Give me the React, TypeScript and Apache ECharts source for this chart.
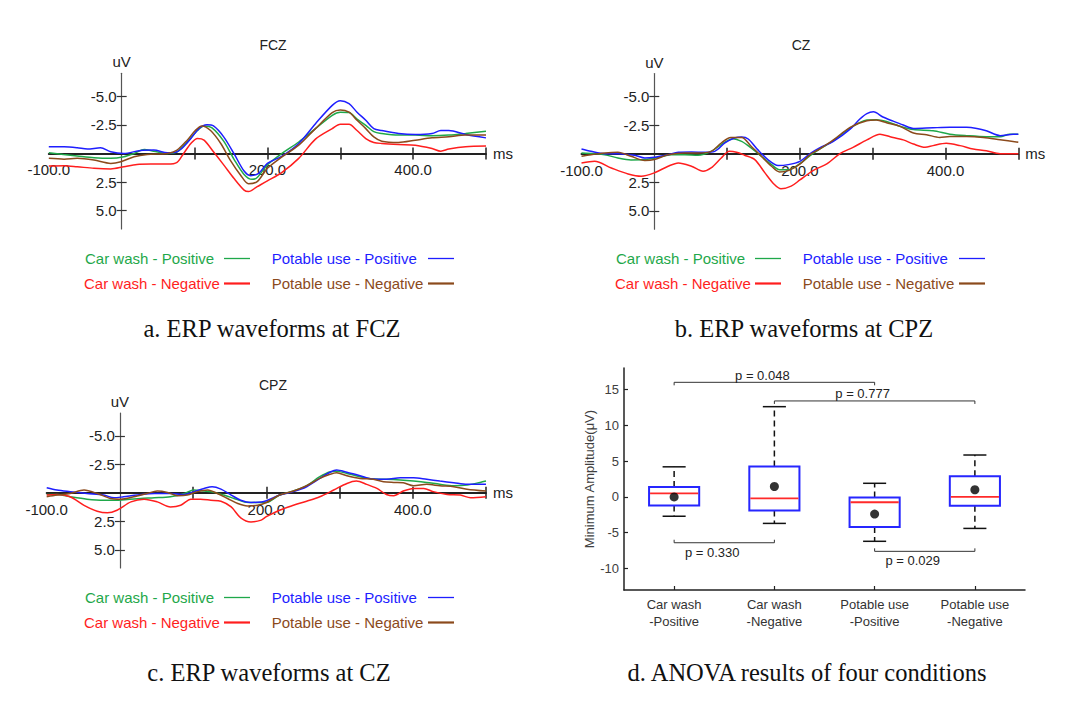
import React, { useEffect, useRef } from "react";
import * as echarts from "echarts";

type P = [number, number][];

// ---------- ERP waveforms (ms, uV) ----------
// FCZ
const fczCarPos: P = [[-100,-0.06],[-80,0.1],[-61,0.23],[-38,0.38],[-15,0.43],[3,0.29],[17,0],[31,-0.35],[44,-0.2],[63,0],[76,-0.14],[90,-1.0],[104,-2.0],[113,-2.4],[124,-2.23],[140,-1.07],[154,0.49],[168,1.83],[179,2.26],[186,2.1],[200,1.0],[220,0],[243,-1.0],[266,-2.17],[289,-3.33],[300,-3.6],[312,-3.57],[323,-3.0],[335,-2.46],[346,-1.9],[357,-1.74],[380,-1.6],[403,-1.6],[426,-1.54],[449,-1.6],[472,-1.74],[500,-1.94]];
const fczPotPos: P = [[-100,-0.58],[-79,-0.58],[-61,-0.5],[-47,-0.38],[-29,-0.5],[-15,-0.14],[3,0],[26,-0.26],[44,-0.29],[63,-0.06],[76,-0.15],[85,-0.58],[95,-1.3],[106,-2.17],[117,-2.5],[126,-2.4],[140,-1.45],[154,0],[168,1.54],[177,1.94],[188,1.74],[200,0.87],[220,0.23],[243,-0.87],[266,-2.6],[289,-4.2],[300,-4.6],[312,-4.35],[323,-3.6],[335,-2.9],[346,-2.17],[357,-2.0],[380,-1.74],[403,-1.65],[426,-1.74],[438,-2.0],[449,-2.0],[472,-1.65],[500,-1.36]];
const fczCarNeg: P = [[-100,1.1],[-79,1.07],[-61,1.16],[-38,1.3],[-15,1.36],[3,1.16],[21,0.96],[40,0.93],[63,0.93],[76,0.78],[85,0],[95,-0.87],[104,-1.3],[113,-1.16],[126,-0.14],[140,1.0],[154,2.17],[168,3.2],[174,3.33],[186,2.9],[200,2.4],[220,1.65],[243,0.43],[266,-1.25],[289,-2.17],[300,-2.55],[312,-2.55],[323,-2.0],[335,-1.3],[346,-0.96],[357,-0.87],[380,-0.78],[403,-0.72],[426,-0.43],[438,-0.2],[449,-0.38],[472,-0.58],[500,-0.64]];
const fczPotNeg: P = [[-100,0.43],[-79,0.5],[-61,0.43],[-38,0.58],[-15,0.87],[-1,0.72],[17,0.29],[35,0.09],[63,0],[76,-0.29],[90,-1.16],[101,-2.0],[110,-2.4],[122,-2.0],[136,-0.87],[149,0.58],[163,1.88],[174,2.64],[186,2.46],[200,1.3],[220,0.3],[243,-0.72],[266,-2.17],[289,-3.57],[300,-3.8],[312,-3.6],[323,-2.9],[335,-2.17],[346,-1.45],[357,-1.07],[380,-0.96],[403,-1.16],[426,-1.36],[449,-1.45],[472,-1.6],[500,-1.6]];

// CZ
const czCarPos: P = [[-100,-0.06],[-82,0],[-68,0.09],[-50,0.38],[-32,0.55],[-13,0.52],[5,0.32],[23,0.09],[42,0.09],[60,0.14],[78,-0.2],[97,-1.0],[108,-1.3],[120,-1.07],[133,-0.5],[147,0.23],[161,0.96],[172,1.4],[184,1.4],[200,0.88],[214,0.17],[227,-0.4],[246,-1.13],[269,-2.23],[292,-2.93],[305,-2.96],[319,-2.8],[337,-2.4],[356,-2.1],[383,-2.0],[406,-1.7],[429,-1.57],[456,-1.48],[475,-1.48],[488,-1.7],[500,-1.7]];
const czPotPos: P = [[-100,-0.4],[-87,-0.2],[-68,0],[-50,0],[-27,0.14],[-13,0.38],[0,0.32],[19,0.09],[33,-0.12],[51,-0.14],[69,-0.12],[83,-0.2],[97,-0.93],[110,-1.36],[120,-1.45],[129,-1.28],[142,-0.35],[156,0.52],[170,1.04],[184,0.96],[200,0.67],[214,0],[227,-0.5],[246,-1.07],[269,-2.14],[282,-3.0],[292,-3.5],[301,-3.65],[314,-3.2],[328,-2.84],[342,-2.5],[356,-2.2],[383,-2.26],[406,-2.3],[429,-2.3],[443,-2.2],[456,-2.0],[475,-1.57],[493,-1.7],[500,-1.7]];
const czCarNeg: P = [[-100,0.81],[-82,0.67],[-59,1.25],[-36,1.77],[-18,1.97],[0,1.68],[19,1.1],[33,0.81],[51,1.1],[67,1.54],[78,1.25],[92,0.38],[103,-0.2],[113,-0.12],[124,0.14],[138,0.52],[152,1.68],[165,2.7],[174,3.07],[188,2.84],[200,2.3],[218,1.48],[237,0.9],[255,0],[273,-0.55],[292,-1.2],[310,-1.7],[324,-1.48],[342,-1.2],[356,-0.84],[372,-0.55],[383,-0.7],[401,-0.9],[420,-0.7],[438,-0.4],[456,-0.26],[475,0],[500,0]];
const czPotNeg: P = [[-100,0.23],[-87,0.09],[-68,-0.06],[-50,-0.12],[-32,0.23],[-13,0.6],[0,0.52],[19,0.09],[42,-0.06],[60,-0.06],[78,-0.2],[92,-0.93],[105,-1.42],[120,-1.42],[133,-0.64],[147,0.23],[161,1.1],[172,1.6],[184,1.48],[200,0.92],[214,0.09],[227,-0.4],[246,-1.2],[269,-2.3],[292,-2.87],[305,-2.93],[319,-2.7],[337,-2.4],[356,-1.8],[374,-1.65],[392,-1.42],[406,-1.5],[429,-1.5],[452,-1.42],[475,-1.22],[500,-1.0]];

// CPZ
const cpzCarPos: P = [[-100,0.15],[-86,0.15],[-68,0.35],[-45,0.56],[-22,0.65],[-8,0.65],[10,0.59],[28,0.5],[47,0.44],[69,0.35],[88,0.06],[101,-0.24],[115,-0.15],[129,-0.03],[142,0.2],[156,0.5],[170,0.8],[188,0.85],[200,0.85],[218,0.2],[237,-0.15],[255,-0.62],[273,-1.41],[287,-1.85],[296,-1.9],[310,-1.7],[328,-1.41],[346,-1.2],[364,-1.18],[383,-1.12],[401,-1.03],[419,-0.91],[437,-0.74],[456,-0.62],[474,-0.68],[492,-0.91],[500,-1.03]];
const cpzPotPos: P = [[-100,-0.44],[-86,-0.24],[-68,-0.1],[-45,0.06],[-22,0.2],[-8,0.44],[5,0.35],[24,0.2],[47,0.06],[69,0.06],[88,0.15],[101,-0.1],[115,-0.38],[126,-0.53],[138,-0.32],[152,0.2],[165,0.65],[179,0.85],[193,0.8],[200,0.7],[218,0.2],[237,-0.1],[255,-0.53],[273,-1.26],[287,-1.8],[296,-2.0],[310,-1.8],[328,-1.5],[346,-1.2],[364,-1.18],[383,-1.32],[401,-1.32],[419,-1.18],[437,-1.03],[456,-0.88],[474,-0.74],[500,-0.74]];
const cpzCarNeg: P = [[-100,0.2],[-86,0.15],[-68,0.35],[-49,1.1],[-31,1.62],[-17,1.76],[-4,1.53],[15,0.8],[33,0.56],[51,0.8],[69,1.24],[83,1.1],[97,0.56],[110,0.56],[124,0.65],[138,0.74],[152,1.24],[165,2.2],[179,2.56],[193,2.4],[200,2.1],[218,1.53],[237,1.1],[255,0.74],[273,0.35],[292,-0.24],[310,-0.82],[323,-1.03],[337,-0.74],[351,-0.38],[364,0.15],[374,0.26],[387,-0.15],[401,-0.38],[415,-0.38],[428,-0.1],[447,0.15],[465,0.2],[479,0.44],[500,0.35]];
const cpzPotNeg: P = [[-100,0.35],[-86,0.2],[-68,0.06],[-49,-0.24],[-31,0.06],[-13,0.5],[1,0.56],[19,0.35],[37,0.06],[51,-0.15],[65,-0.03],[79,0.26],[92,0.2],[106,-0.1],[120,-0.24],[133,0.06],[147,0.5],[161,0.94],[174,1.15],[188,1.1],[200,0.85],[218,0.2],[237,-0.15],[255,-0.62],[273,-1.26],[287,-1.62],[296,-1.76],[310,-1.5],[328,-1.26],[346,-1.18],[360,-0.97],[374,-0.91],[387,-0.88],[401,-0.62],[419,-0.74],[437,-0.62],[456,-0.53],[474,-0.32],[500,-0.15]];

const erpTitles = ["FCZ", "CZ", "CPZ"];
const conditionNames = ["Car wash - Positive", "Potable use - Positive", "Car wash - Negative", "Potable use - Negative"];
const conditionColors = ["#1fa84a", "#1e1eff", "#ff1e1e", "#8b4a1c"];
const erpYTicks = [-5, -2.5, 2.5, 5];
const erpXTicks = [100, 200, 300, 400, 500];
const erpXLabels = [-100, 200, 400];
const erpXRange = [-100, 500];
const erpYRange = [-7, 6.6];

const erpPanels: P[][] = [
  [fczCarPos, fczPotPos, fczCarNeg, fczPotNeg],
  [czCarPos, czPotPos, czCarNeg, czPotNeg],
  [cpzCarPos, cpzPotPos, cpzCarNeg, cpzPotNeg],
];

// ---------- ANOVA box plot ----------
const boxCategories = ["Car wash\n-Positive", "Car wash\n-Negative", "Potable use\n-Positive", "Potable use\n-Negative"];
const whiskerLow = [-2.7, -3.7, -6.2, -4.4];
const quartile1 = [-1.2, -1.9, -4.2, -1.25];
const medians = [0.5, -0.2, -0.75, 0];
const quartile3 = [1.4, 4.25, -0.1, 2.9];
const whiskerHigh = [4.2, 12.6, 1.9, 5.85];
const means = [0.0, 1.45, -2.4, 1.0];
const boxYTicks = [-10, -5, 0, 5, 10, 15];

const bracketFrom = [0, 1, 0, 2];
const bracketTo = [2, 3, 1, 3];
const bracketY = [16.0, 13.4, -6.4, -7.6];
const bracketLabels = ["p = 0.048", "p = 0.777", "p = 0.330", "p = 0.029"];

const captions = ["a. ERP waveforms at FCZ", "b. ERP waveforms at CPZ", "c. ERP waveforms at CZ", "d. ANOVA results of four conditions"];

// ---------- layout ----------
const SANS = '"Liberation Sans", Arial, sans-serif';
const SERIF = '"Liberation Serif", "Times New Roman", serif';
const erpGrids = [
  { left: 48.8, top: 73.3, width: 437.2, height: 155.7 },
  { left: 581.5, top: 73.5, width: 436.8, height: 155.7 },
  { left: 46.7, top: 413, width: 439.3, height: 155 },
];
const titlePos = [[273, 45], [801, 45], [273, 385]];
const legendOffsets = [[0, 0], [531, 0], [0, 339]];
const captionPos = [[272, 328], [804, 328], [269, 672], [807, 672]];

function buildOption() {
  const grid: any[] = [...erpGrids, { left: 624, top: 368, width: 401, height: 222 }];
  const xAxis: any[] = [];
  const yAxis: any[] = [];
  const series: any[] = [];
  const graphic: any[] = [];

  erpPanels.forEach((panel, gi) => {
    const g = erpGrids[gi];
    // pixel position of the zero lines inside this grid (axes cross at 0 ms / 0 uV)
    const zeroX = g.left + (g.width * (0 - erpXRange[0])) / (erpXRange[1] - erpXRange[0]);
    const zeroY = g.top + (g.height * (0 - erpYRange[0])) / (erpYRange[1] - erpYRange[0]);
    const offBottom = -(g.top + g.height - zeroY);
    const offTop = -(zeroY - g.top);
    const offLeft = -(zeroX - g.left);
    const offRight = -(g.left + g.width - zeroX);
    const tickStyle = { color: "#222", width: 1.5 };
    xAxis.push({
      type: "value", gridIndex: gi, min: erpXRange[0], max: erpXRange[1], position: "bottom", offset: offBottom,
      axisLine: { onZero: false, lineStyle: { color: "#222", width: 2 } },
      axisTick: { show: true, customValues: erpXTicks, length: 6, lineStyle: tickStyle },
      axisLabel: { customValues: erpXLabels, formatter: (v: number) => v.toFixed(1), margin: 9, fontSize: 15, color: "#222", fontFamily: SANS },
      splitLine: { show: false },
      name: "ms", nameLocation: "end", nameGap: 7,
      nameTextStyle: { fontSize: 15, color: "#222", fontFamily: SANS, verticalAlign: "middle" },
    });
    xAxis.push({
      type: "value", gridIndex: gi, min: erpXRange[0], max: erpXRange[1], position: "top", offset: offTop,
      axisLine: { show: false, onZero: false },
      axisTick: { show: true, customValues: erpXTicks, length: 6, lineStyle: tickStyle },
      axisLabel: { show: false }, splitLine: { show: false },
    });
    yAxis.push({
      type: "value", gridIndex: gi, inverse: true, min: erpYRange[0], max: erpYRange[1], position: "left", offset: offLeft,
      axisLine: { show: true, onZero: false, lineStyle: { color: "#555", width: 1.2 } },
      axisTick: { show: true, customValues: erpYTicks, length: 5, lineStyle: { color: "#333", width: 1.2 } },
      axisLabel: { customValues: erpYTicks, formatter: (v: number) => v.toFixed(1), margin: 5, fontSize: 15, color: "#222", fontFamily: SANS },
      splitLine: { show: false },
      name: "uV", nameLocation: "start", nameGap: 4,
      nameTextStyle: { fontSize: 15, color: "#222", fontFamily: SANS },
    });
    yAxis.push({
      type: "value", gridIndex: gi, inverse: true, min: erpYRange[0], max: erpYRange[1], position: "right", offset: offRight,
      axisLine: { show: false, onZero: false },
      axisTick: { show: true, customValues: erpYTicks, length: 5, lineStyle: { color: "#333", width: 1.2 } },
      axisLabel: { show: false }, splitLine: { show: false },
    });
    panel.forEach((data, si) => {
      series.push({
        type: "line", name: conditionNames[si] + " " + erpTitles[gi],
        xAxisIndex: gi * 2, yAxisIndex: gi * 2, data,
        showSymbol: false, smooth: 0.3, silent: true, z: 3,
        lineStyle: { color: conditionColors[si], width: 1.5 },
        itemStyle: { color: conditionColors[si] },
      });
    });
    // title
    graphic.push({
      type: "text", x: titlePos[gi][0], y: titlePos[gi][1],
      style: { text: erpTitles[gi], fill: "#222", font: `14px ${SANS}`, textAlign: "center", textVerticalAlign: "middle", align: "center", verticalAlign: "middle" },
    });
    // legend
    const [ox, oy] = legendOffsets[gi];
    const legendTextX = [85, 271.7, 84, 271.7];
    const legendLineX = [224, 428, 224, 428];
    const legendRowY = [258.5, 258.5, 283.5, 283.5];
    const legendWidths = [1.3, 1.3, 2.2, 2.2];
    conditionNames.forEach((nm, li) => {
      graphic.push({
        type: "text", x: legendTextX[li] + ox, y: legendRowY[li] + oy,
        style: { text: nm, fill: conditionColors[li], font: `15px ${SANS}`, textAlign: "left", textVerticalAlign: "middle", align: "left", verticalAlign: "middle" },
      });
      graphic.push({
        type: "line",
        shape: { x1: legendLineX[li] + ox, y1: legendRowY[li] + oy, x2: legendLineX[li] + ox + 26, y2: legendRowY[li] + oy },
        style: { stroke: conditionColors[li], lineWidth: legendWidths[li] },
      });
    });
  });

  // box plot axes
  xAxis.push({
    type: "category", gridIndex: 3, data: boxCategories,
    axisLine: { onZero: false, lineStyle: { color: "#222", width: 1.5 } },
    axisTick: { show: true, inside: true, alignWithLabel: true, length: 4, lineStyle: { color: "#222", width: 1.2 } },
    axisLabel: { interval: 0, margin: 6, fontSize: 13, lineHeight: 17, color: "#333", fontFamily: SANS },
    splitLine: { show: false },
  });
  yAxis.push({
    type: "value", gridIndex: 3, min: -13, max: 18,
    axisLine: { show: true, lineStyle: { color: "#222", width: 1.5 } },
    axisTick: { show: true, inside: true, length: 4, customValues: boxYTicks, lineStyle: { color: "#222", width: 1.2 } },
    axisLabel: { customValues: boxYTicks, fontSize: 13, color: "#404040", margin: 5, fontFamily: SANS },
    splitLine: { show: false },
    name: "Minimum Amplitude(μV)", nameLocation: "middle", nameGap: 27,
    nameTextStyle: { fontSize: 13, color: "#404040", fontFamily: SANS },
  });

  const boxData = boxCategories.map((_, i) => [i, whiskerLow[i], quartile1[i], medians[i], quartile3[i], whiskerHigh[i]]);
  series.push({
    type: "custom", xAxisIndex: 6, yAxisIndex: 6, data: boxData, silent: true, z: 3,
    encode: { x: 0, y: [1, 2, 3, 4, 5] },
    renderItem: (params: any, api: any) => {
      const idx = api.value(0);
      const pLow = api.coord([idx, api.value(1)]);
      const pQ1 = api.coord([idx, api.value(2)]);
      const pMed = api.coord([idx, api.value(3)]);
      const pQ3 = api.coord([idx, api.value(4)]);
      const pHigh = api.coord([idx, api.value(5)]);
      const band = api.size([1, 0])[0];
      const boxW = band * 0.5;
      const capW = band * 0.23;
      const cx = pMed[0];
      const dash = { stroke: "#111", lineWidth: 1.5, lineDash: [6, 4] };
      const solid = { stroke: "#111", lineWidth: 1.5 };
      return {
        type: "group",
        children: [
          { type: "line", shape: { x1: cx, y1: pQ3[1], x2: cx, y2: pHigh[1] }, style: dash },
          { type: "line", shape: { x1: cx, y1: pQ1[1], x2: cx, y2: pLow[1] }, style: dash },
          { type: "line", shape: { x1: cx - capW / 2, y1: pHigh[1], x2: cx + capW / 2, y2: pHigh[1] }, style: solid },
          { type: "line", shape: { x1: cx - capW / 2, y1: pLow[1], x2: cx + capW / 2, y2: pLow[1] }, style: solid },
          { type: "rect", shape: { x: cx - boxW / 2, y: pQ3[1], width: boxW, height: pQ1[1] - pQ3[1] }, style: { fill: "#fff", stroke: "#2626ff", lineWidth: 2 } },
          { type: "line", shape: { x1: cx - boxW / 2 + 1, y1: pMed[1], x2: cx + boxW / 2 - 1, y2: pMed[1] }, style: { stroke: "#ff2a2a", lineWidth: 1.8 } },
        ],
      };
    },
  });
  series.push({
    type: "scatter", xAxisIndex: 6, yAxisIndex: 6, silent: true, z: 5,
    data: means.map((m, i) => [i, m]), symbolSize: 9, itemStyle: { color: "#000" },
  });
  const bracketData = bracketLabels.map((lab, i) => [bracketFrom[i], bracketTo[i], bracketY[i], lab]);
  series.push({
    type: "custom", xAxisIndex: 6, yAxisIndex: 6, data: bracketData, silent: true, clip: false, z: 4,
    encode: { x: [0, 1], y: 2 },
    renderItem: (params: any, api: any) => {
      const i = params.dataIndex;
      const a = api.coord([api.value(0), api.value(2)]);
      const b = api.coord([api.value(1), api.value(2)]);
      const up = bracketY[i] > 0;
      const tick = up ? 3 : -3;
      const mid = (a[0] + b[0]) / 2 - 12;
      const st = { stroke: "#333", lineWidth: 1 };
      return {
        type: "group",
        children: [
          { type: "line", shape: { x1: a[0], y1: a[1], x2: b[0], y2: b[1] }, style: st },
          { type: "line", shape: { x1: a[0], y1: a[1], x2: a[0], y2: a[1] + tick }, style: st },
          { type: "line", shape: { x1: b[0], y1: b[1], x2: b[0], y2: b[1] + tick }, style: st },
          {
            type: "text",
            style: {
              text: bracketLabels[i], x: mid, y: up ? a[1] - 0.5 : a[1] + 3,
              fill: "#222", font: `13px ${SANS}`,
              textAlign: "center", align: "center",
              textVerticalAlign: up ? "bottom" : "top", verticalAlign: up ? "bottom" : "top",
            },
          },
        ],
      };
    },
  });

  captions.forEach((c, i) => {
    graphic.push({
      type: "text", x: captionPos[i][0], y: captionPos[i][1],
      style: { text: c, fill: "#111", font: `24.5px ${SERIF}`, textAlign: "center", textVerticalAlign: "middle", align: "center", verticalAlign: "middle" },
    });
  });

  return { animation: false, backgroundColor: "#fff", grid, xAxis, yAxis, series, graphic };
}

export default function App() {
  const ref = useRef<HTMLDivElement>(null);
  useEffect(() => {
    if (!ref.current) return;
    const chart = echarts.init(ref.current, null, { renderer: "svg" });
    chart.setOption(buildOption() as any);
    return () => chart.dispose();
  }, []);
  return <div ref={ref} style={{ position: "fixed", left: 0, top: 0, width: 1080, height: 701, background: "#fff" }} />;
}
